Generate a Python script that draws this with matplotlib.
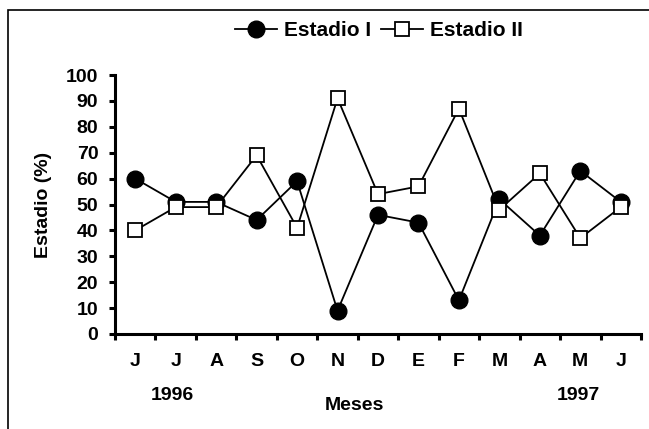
import matplotlib
matplotlib.use('Agg')
import matplotlib.pyplot as plt
import matplotlib.patches
import numpy as np


meses = ['J', 'J', 'A', 'S', 'O', 'N', 'D', 'E', 'F', 'M', 'A', 'M', 'J']
estadio_1 = [60, 51, 51, 44, 59, 9, 46, 43, 13, 52, 38, 63, 51]
estadio_2 = [40, 49, 49, 69, 41, 91, 54, 57, 87, 48, 62, 37, 49]


def main():

    matplotlib.rc('font', family = 'Liberation Sans', weight = 'bold', size = 14)

    fig = plt.figure(figsize = [6.49, 4.29], dpi = 100)
    ax = fig.add_axes([115 / 649, 1 - 334 / 429, 526 / 649, 259 / 429])

    x = np.arange(len(meses)) + 0.5

    l1, = ax.plot(x, estadio_1, 'k-', lw = 1.3, marker = 'o', ms = 12,
                  mfc = 'black', mec = 'black', zorder = 3, clip_on = False)
    l2, = ax.plot(x, estadio_2, 'k-', lw = 1.3, marker = 's', ms = 10.5,
                  mfc = 'white', mec = 'black', mew = 1.3, zorder = 4,
                  clip_on = False)

    ax.set_xlim(0, len(meses))
    ax.set_ylim(0, 100)
    ax.set_yticks(range(0, 101, 10))

    ax.set_xticks(np.arange(len(meses) + 1))
    ax.set_xticklabels([])
    ax.set_xticks(x, minor = True)
    ax.set_xticklabels(meses, minor = True)
    ax.tick_params(axis = 'x', which = 'minor', length = 0, pad = 14)
    ax.tick_params(axis = 'x', which = 'major', direction = 'out',
                   length = 4, width = 2.2)
    ax.tick_params(axis = 'y', direction = 'out', length = 4, width = 2.2,
                   pad = 8)

    for s in ['top', 'right']:
        ax.spines[s].set_visible(False)
    for s in ['left', 'bottom']:
        ax.spines[s].set_linewidth(2.2)

    ax.set_ylabel('Estadio (%)', fontsize = 14, fontweight = 'bold',
                  labelpad = 10)

    fig.text(172 / 649, 1 - 395 / 429, '1996', ha = 'center', va = 'center')
    fig.text(578 / 649, 1 - 395 / 429, '1997', ha = 'center', va = 'center')
    fig.text(354 / 649, 1 - 406 / 429, 'Meses', ha = 'center', va = 'center')

    fig.legend([l1, l2], ['Estadio I', 'Estadio II'], loc = 'center',
               bbox_to_anchor = (379 / 649, 1 - 31 / 429), ncol = 2,
               frameon = False, handlelength = 2.0, handletextpad = 0.35,
               columnspacing = 0.5, fontsize = 15)

    # outer frame, only top and left edges fall inside the picture
    r = matplotlib.patches.Rectangle(
        (8 / 649, -0.1),
        width = 1.2,
        height = 1.1 - 10 / 429,
        transform = fig.transFigure,
        ec = 'black',
        fc = 'none',
        lw = 1.2,
    )
    fig.patches.append(r)

    plt.savefig('out.png', dpi = 100)


if __name__ == "__main__":
    main()
